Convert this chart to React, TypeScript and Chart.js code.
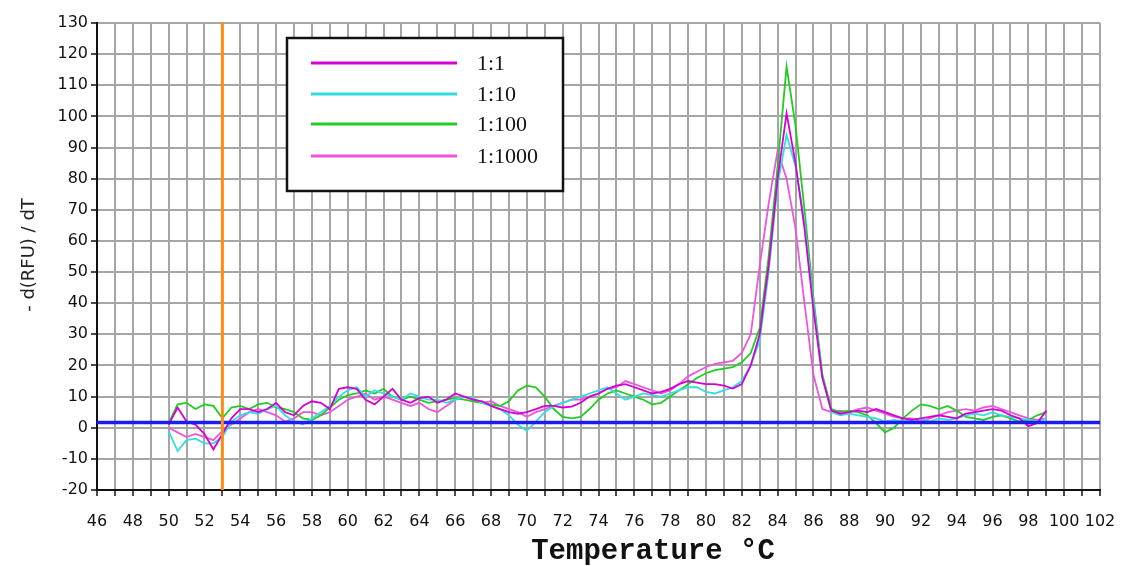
import React, { useEffect, useRef } from "react";
import { Chart, registerables } from "chart.js";

Chart.register(...registerables);

// Temperature (°C) sample points
const TEMPS = [
  50, 50.5, 51, 51.5, 52, 52.5, 53, 53.5, 54, 54.5,
  55, 55.5, 56, 56.5, 57, 57.5, 58, 58.5, 59, 59.5,
  60, 60.5, 61, 61.5, 62, 62.5, 63, 63.5, 64, 64.5,
  65, 65.5, 66, 66.5, 67, 67.5, 68, 68.5, 69, 69.5,
  70, 70.5, 71, 71.5, 72, 72.5, 73, 73.5, 74, 74.5,
  75, 75.5, 76, 76.5, 77, 77.5, 78, 78.5, 79, 79.5,
  80, 80.5, 81, 81.5, 82, 82.5, 83, 83.5, 84, 84.5,
  85, 85.5, 86, 86.5, 87, 87.5, 88, 88.5, 89, 89.5,
  90, 90.5, 91, 91.5, 92, 92.5, 93, 93.5, 94, 94.5,
  95, 95.5, 96, 96.5, 97, 97.5, 98, 98.5, 99,
];

// -d(RFU)/dT for each dilution
const S_1_1 = [
  1, 6.5, 2, 1, -2, -7, -2, 3, 6, 6,
  5, 6, 8, 5, 4, 7, 8.5, 8, 6, 12.5,
  13, 12.5, 9, 7.5, 10, 12.5, 9, 8, 9.5, 10,
  8, 9, 11, 10, 9, 8.5, 7, 6, 5, 4.5,
  5, 6, 7, 7, 6.5, 6.8, 8, 10, 11, 12.5,
  13.5, 14, 13, 12, 11, 11.5, 12.5, 14, 15, 14.5,
  14, 14, 13.5, 12.6, 14, 20, 30, 52, 80, 101,
  85, 64, 38, 16, 5.5, 4.5, 5, 5.5, 5, 6,
  5, 4, 3, 2.5, 3, 3.5, 4, 3.5, 3, 4.5,
  5, 5.5, 6, 5.5, 4, 3, 0.5, 1.5, 5.5,
];

const S_1_10 = [
  -1, -7.5, -4, -3.5, -5, -5, -3, 2, 4, 5,
  4.5, 6, 7, 4, 2, 1, 3, 5, 7, 10,
  12, 13, 10, 12, 11, 10, 9, 11, 10, 9,
  9, 8, 9, 10, 9.5, 8, 7, 6, 4, 1,
  -1, 2, 5, 7, 8, 9, 10, 11, 12, 13,
  11, 9, 10, 11, 10.5, 10, 11, 12, 13, 13,
  11.5, 11, 12, 13, 15, 20, 28, 50, 78, 94,
  84, 66, 40, 16, 5, 4, 4.5, 4, 3.5, 3,
  2, 2.5, 2, 2.5, 3, 2, 3, 2.5, 3, 4,
  4.5, 4, 5, 4, 3.5, 3, 2.5, 2, 3,
];

const S_1_100 = [
  1.5, 7.5, 8, 6, 7.5, 7, 3, 6.5, 7, 6,
  7.5, 8, 6.5, 6, 5, 3, 2.5, 4, 6.5, 9,
  10.5, 11, 12, 11, 12.5, 10, 9, 10, 9, 8,
  8.5, 9, 9.5, 9, 8.5, 8, 7.5, 7, 8.5, 12,
  13.5, 13, 10, 6, 3.5, 3, 3.5, 6, 9, 11,
  12, 11, 10, 9, 7.5, 8, 10, 12, 14, 16,
  17.5, 18.5, 19, 19.5, 21, 24, 32, 55, 84, 116,
  97, 70, 42, 17, 6, 5, 5.5, 5, 4, 1.5,
  -1.5, 0, 3, 5.5, 7.5, 7, 6, 7, 5.5, 3.5,
  3, 2.5, 3.5, 4, 3, 2, 2.5, 4, 5,
];

const S_1_1000 = [
  0, -1.5, -3, -2, -3, -4, -1, 1, 3, 5,
  6, 5, 4, 2, 3, 5, 5, 4, 5, 7,
  9, 10, 11, 9, 10, 9, 8, 7, 8, 6,
  5, 7, 9, 10, 9, 8, 8.5, 7, 6, 5,
  3.5, 5, 6, 7, 8, 9, 9, 10, 11, 12.5,
  13, 15, 14, 13, 12, 11, 12, 14, 16.5, 18,
  19.5, 20.5, 21, 21.5, 24, 30, 52, 72, 89, 80,
  64, 40, 17, 6, 5, 5.5, 5, 6, 6.5, 5.5,
  4.5, 3.5, 3, 3, 2, 3, 4, 5, 5.5, 6,
  5.5, 6.5, 7, 6, 5, 4, 3, 2.5, 3,
];

const SERIES_LABELS = ["1:1", "1:10", "1:100", "1:1000"];
const SERIES_COLORS = ["#d400d4", "#33dede", "#22cc22", "#ee55dd"];

const X_MIN = 46;
const X_MAX = 102;
const Y_MIN = -20;
const Y_MAX = 130;
const BASELINE_VALUE = 1.7;
const MARKER_TEMP = 53;

const X_TITLE = "Temperature °C";
const Y_TITLE = "- d(RFU) / dT";

export default function App() {
  const ref = useRef<HTMLCanvasElement>(null);

  useEffect(() => {
    document.body.style.margin = "0";
    const canvas = ref.current;
    if (!canvas) return;

    const seriesData = [S_1_1, S_1_10, S_1_100, S_1_1000];
    const toPts = (ys: number[]) => TEMPS.map((t, i) => ({ x: t, y: ys[i] }));

    const overlay = {
      id: "overlay",
      afterDraw(chart: any) {
        const ctx = chart.ctx as CanvasRenderingContext2D;
        ctx.save();
        // legend box
        const bx = 287, by = 38, bw = 276, bh = 153;
        ctx.fillStyle = "#ffffff";
        ctx.fillRect(bx, by, bw, bh);
        ctx.strokeStyle = "#111";
        ctx.lineWidth = 2.5;
        ctx.strokeRect(bx, by, bw, bh);
        const rows = [63, 94, 124, 156];
        chart.data.datasets.forEach((ds: any, i: number) => {
          if (!ds.isSeries) return;
          const y = rows[i];
          ctx.strokeStyle = ds.borderColor;
          ctx.lineWidth = 3;
          ctx.beginPath();
          ctx.moveTo(311, y);
          ctx.lineTo(457, y);
          ctx.stroke();
          ctx.fillStyle = "#111";
          ctx.font = "22px 'Liberation Serif', serif";
          ctx.textAlign = "left";
          ctx.textBaseline = "middle";
          ctx.fillText(ds.label, 477, y + 1);
        });
        // x title
        ctx.fillStyle = "#111";
        ctx.font = "bold 29px 'Liberation Mono', monospace";
        ctx.textAlign = "center";
        ctx.textBaseline = "middle";
        ctx.fillText(X_TITLE, 653, 552);
        // y title
        ctx.translate(29, 255);
        ctx.rotate(-Math.PI / 2);
        ctx.font = "18px 'DejaVu Sans', sans-serif";
        ctx.fillStyle = "#222";
        ctx.fillText(Y_TITLE, 0, 0);
        ctx.restore();
      },
    };

    const chart = new Chart(canvas, {
      type: "line",
      data: {
        datasets: [
          ...seriesData.map((s, i) => ({
            label: SERIES_LABELS[i],
            data: toPts(s),
            borderColor: SERIES_COLORS[i],
            backgroundColor: SERIES_COLORS[i],
            borderWidth: 1.8,
            pointRadius: 0,
            tension: 0,
            order: 1,
            isSeries: true,
          })),
          {
            label: "marker",
            data: [
              { x: MARKER_TEMP, y: Y_MIN },
              { x: MARKER_TEMP, y: Y_MAX },
            ],
            borderColor: "#ff8a10",
            borderWidth: 3,
            pointRadius: 0,
            order: 0,
          },
          {
            label: "baseline",
            data: [
              { x: X_MIN, y: BASELINE_VALUE },
              { x: X_MAX, y: BASELINE_VALUE },
            ],
            borderColor: "#1c1cf0",
            borderWidth: 3.5,
            pointRadius: 0,
            order: 0,
          },
        ] as any,
      },
      options: {
        responsive: false,
        animation: false,
        devicePixelRatio: 1,
        layout: { padding: { top: 23, right: 26, left: 0, bottom: 0 } },
        plugins: {
          legend: { display: false },
          tooltip: { enabled: false },
        },
        scales: {
          x: {
            type: "linear",
            min: X_MIN,
            max: X_MAX,
            afterFit: (s: any) => {
              s.height = 76;
              s.paddingLeft = 0;
              s.paddingRight = 0;
            },
            ticks: {
              stepSize: 1,
              autoSkip: false,
              maxRotation: 0,
              minRotation: 0,
              padding: 16,
              color: "#111",
              font: { family: "'DejaVu Sans', sans-serif", size: 16 },
              callback: (v: any) => (Number(v) % 2 === 0 ? String(v) : ""),
            },
            grid: {
              color: "#a6a6a6",
              lineWidth: 2,
              tickColor: "#111",
              tickLength: 6,
              tickWidth: 1.5,
            },
            border: { color: "#111", width: 2 },
          },
          y: {
            type: "linear",
            min: Y_MIN,
            max: Y_MAX,
            afterFit: (s: any) => {
              s.width = 97;
              s.paddingTop = 0;
              s.paddingBottom = 0;
            },
            ticks: {
              stepSize: 10,
              padding: 3,
              color: "#111",
              font: { family: "'DejaVu Sans', sans-serif", size: 16 },
            },
            grid: {
              color: "#a6a6a6",
              lineWidth: 2,
              tickColor: "#111",
              tickLength: 6,
              tickWidth: 1.5,
            },
            border: { color: "#111", width: 2 },
          },
        },
      } as any,
      plugins: [overlay],
    });

    return () => chart.destroy();
  }, []);

  return (
    <div style={{ position: "absolute", left: 0, top: 0, width: 1126, height: 566, background: "#fff" }}>
      <canvas ref={ref} width={1126} height={566} style={{ display: "block" }} />
    </div>
  );
}
